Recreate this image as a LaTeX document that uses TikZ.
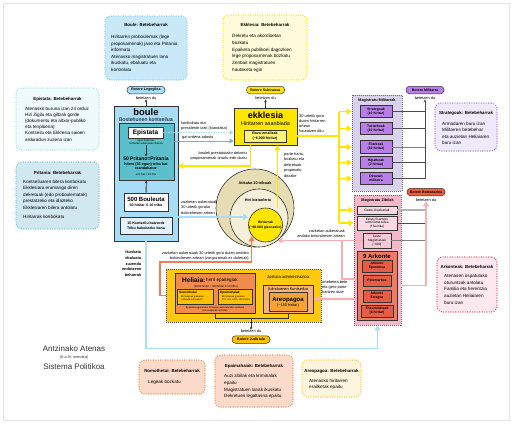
\documentclass[tikz,border=0pt]{standalone}
\usepackage{fontspec}
\setmainfont{Liberation Sans}
\usetikzlibrary{arrows.meta, positioning}

\newcommand{\fsz}[2]{\fontsize{#1}{#2}\selectfont}

\definecolor{bouleblue}{HTML}{A9DDF5}
\definecolor{tealbox}{HTML}{5CBFCB}
\definecolor{paleblue}{HTML}{E4F3FB}
\definecolor{bouledutyfill}{HTML}{C9E8F8}
\definecolor{bouledutydraw}{HTML}{8DD0F0}
\definecolor{epdutyfill}{HTML}{EEFAFC}
\definecolor{epdutydraw}{HTML}{A8E0EC}
\definecolor{pritdutyfill}{HTML}{D2E8F0}
\definecolor{pritdutydraw}{HTML}{6CC3D4}
\definecolor{ekkyellow}{HTML}{FFE600}
\definecolor{ekkdutyfill}{HTML}{FFFBDA}
\definecolor{bozofill}{HTML}{FFF27A}
\definecolor{tribufill}{HTML}{E6DDB5}
\definecolor{hirifill}{HTML}{F3EFDA}
\definecolor{milfill}{HTML}{D8D2EA}
\definecolor{milbox}{HTML}{B97FE8}
\definecolor{strdutyfill}{HTML}{EFEAFB}
\definecolor{strdutydraw}{HTML}{A070E8}
\definecolor{civilfill}{HTML}{F6B7CB}
\definecolor{gastufill}{HTML}{F9D9E3}
\definecolor{bestefill}{HTML}{F4CAD8}
\definecolor{arkfill}{HTML}{F07A62}
\definecolor{arkinner}{HTML}{E85C45}
\definecolor{betepill}{HTML}{EF5B3F}
\definecolor{arkdutyfill}{HTML}{FDE8EF}
\definecolor{arkdutydraw}{HTML}{EF4E63}
\definecolor{justfill}{HTML}{FFC90E}
\definecolor{helfill}{HTML}{F28C4E}
\definecolor{subfill}{HTML}{FFC000}
\definecolor{adinfill}{HTML}{F8B27A}
\definecolor{areofill}{HTML}{F6A336}
\definecolor{nomdutyfill}{HTML}{FBDACA}
\definecolor{nomdutydraw}{HTML}{F08C50}
\definecolor{areodutyfill}{HTML}{FFF4DD}
\definecolor{areodutydraw}{HTML}{FFCC22}
\definecolor{pinkline}{HTML}{F7AFB3}
\definecolor{orangeline}{HTML}{F47B55}
\definecolor{dotcyan}{HTML}{A5E3F0}

\begin{document}
\begin{tikzpicture}[
    x=1pt, y=-1pt,
    frame/.style={draw=black!80, line width=0.6pt, align=center, inner sep=0pt},
    group/.style={draw=black!60, line width=0.7pt, dash pattern=on 1pt off 1pt},
    duty/.style={rounded corners=6pt, line width=1.4pt, dash pattern=on 0pt off 2.4pt, line cap=round},
    dutytitle/.style={font=\fsz{4.4}{5}\bfseries, inner sep=0pt},
    dutytext/.style={font=\fsz{4.6}{6.6}, align=left, anchor=north west, inner sep=0pt},
    pill/.style={draw=black!80, line width=0.5pt, rounded corners=3.5pt, minimum width=38pt, minimum height=7.5pt, inner sep=0pt, font=\fsz{3.6}{4}\bfseries},
    note/.style={font=\fsz{3.9}{5}, inner sep=0pt},
    circ/.style={circle, draw=black!80, line width=0.6pt, inner sep=0pt},
    up/.style={-{Stealth[length=3pt,width=2.6pt]}, line width=0.6pt, black!80},
    tie/.style={line width=0.7pt, black!70},
    ylink/.style={draw=ekkyellow, line width=1.3pt, -{Triangle[length=5pt,width=6pt]}},
    yline/.style={draw=ekkyellow, line width=1.3pt},
    bluelink/.style={draw=bouleblue, line width=1.6pt, -{Triangle[length=5pt,width=6pt]}},
    plink/.style={draw=pinkline, line width=1.3pt, -{Triangle[length=5pt,width=5.5pt]}},
    pline/.style={draw=pinkline, line width=1.3pt},
    olink/.style={draw=orangeline, line width=1.2pt, -{Triangle[length=5pt,width=5.5pt]}},
    teallink/.style={draw=tealbox, line width=1pt, -{Triangle[length=4pt,width=4.5pt]}},
    dotlink/.style={draw=dotcyan, line width=1pt, dash pattern=on 1.5pt off 1pt, -{Triangle[length=4pt,width=4.5pt]}}
]
\useasboundingbox (0,0) rectangle (512,424);
\fill[white] (0,0) rectangle (512,424);
\draw[black!10, line width=0.5pt] (3,3) rectangle (509,420);

% Duties
\node[duty, fill=bouledutyfill, draw=bouledutydraw, minimum width=82pt, minimum height=64pt] (bouleduty) at (146,48) {};
\node[dutytitle] (bouledutyhead) at (146,25) {Boule: Betebeharrak};
\node[dutytext] (bouledutybody) at (111,35) {Hiritarren proboulemak (lege\\proposamenak) jaso eta Pritania\\informatu\\Atenasko magistratuen lana\\ikuskatu, ebaluatu eta\\kontrolatu};

\node[duty, fill=ekkdutyfill, draw=ekkyellow, minimum width=84pt, minimum height=65pt] (ekkduty) at (265,47.5) {};
\node[dutytitle] (ekkdutyhead) at (265,25) {Ekklesia: Betebeharrak};
\node[dutytext, font=\fsz{4.6}{6.8}] (ekkdutybody) at (232,34) {Dekretu eta akordioetan\\bozkatu\\Epaiketa publikoei dagozkien\\lege proposamenak bozkatu\\Zenbait magistratuen\\hautaketa egin};

\node[duty, fill=epdutyfill, draw=epdutydraw, minimum width=83pt, minimum height=62pt] (epduty) at (57.5,119) {};
\node[dutytitle] (epdutyhead) at (57.5,99) {Epistata: Betebeharrak};
\node[dutytext, font=\fsz{4.6}{6.2}] (epdutybody) at (25,106.5) {Atenasko buruna izan 24 orduz\\Hiri Zigilu eta giltzak gorde\\(dokumentu eta altxor-publiko\\eta tenploena)\\Kontseilu eta Ekklesia saioen\\arduradun zuzena izan};

\node[duty, fill=pritdutyfill, draw=pritdutydraw, minimum width=83pt, minimum height=67pt] (pritduty) at (57.5,195.5) {};
\node[dutytitle] (pritdutyhead) at (57.5,172.5) {Pritania: Betebeharrak};
\node[dutytext, font=\fsz{4.6}{6.4}] (pritdutybody) at (23,180) {Kontseiluaren bilera konbokatu\\Ekklesiara eramango diren\\dekretuak (edo proboulematak)\\prestatzeko eta idazteko\\Ekklesiaren bilera antolatu\\[3pt]Hiritarrak konbokatu};

\node[duty, fill=strdutyfill, draw=strdutydraw, minimum width=62pt, minimum height=48pt] (strduty) at (466,127) {};
\node[dutytitle] (strdutyhead) at (466,113) {Strategoak: Betebeharrak};
\node[dutytext, font=\fsz{4.6}{6.5}] (strdutybody) at (442,121.5) {Armadaren buru izan\\Militarren betebehar\\eta auzietan Heliaiaren\\buru izan};

\node[duty, fill=arkdutyfill, draw=arkdutydraw, minimum width=60pt, minimum height=55pt] (arkduty) at (467,284.5) {};
\node[dutytitle] (arkdutyhead) at (467,267) {Arkonteak: Betebeharrak};
\node[dutytext, font=\fsz{4.6}{6.7}] (arkdutybody) at (444,274) {Atenasen ospatutako\\oturuntzak antolatu\\Familia eta herentzia\\auzietan Heliaiaren\\buru izan};

\node[duty, fill=nomdutyfill, draw=nomdutydraw, minimum width=66pt, minimum height=34pt] (nomduty) at (172,377) {};
\node[dutytitle] (nomdutyhead) at (172,371) {Nomothetai: Betebeharrak};
\node[dutytext] (nomdutybody) at (148,379.5) {Legeak bozkatu};

\node[duty, fill=nomdutyfill, draw=nomdutydraw, minimum width=78pt, minimum height=52pt] (epaduty) at (254,381) {};
\node[dutytitle] (epadutyhead) at (254,366) {Epaimahaiak: Betebeharrak};
\node[dutytext, font=\fsz{4.6}{6.8}] (epadutybody) at (224,374) {Auzi zibilak eta kriminalak\\epaitu\\Magistratuen lanak ikuskatu\\Dekretuen legaltasna epaitu};

\node[duty, fill=areodutyfill, draw=areodutydraw, minimum width=59pt, minimum height=37pt] (areoduty) at (331.5,378.5) {};
\node[dutytitle] (areodutyhead) at (331.5,371) {Areopagoa: Betebeharrak};
\node[dutytext, font=\fsz{4.6}{6.4}] (areodutybody) at (309,379) {Atenasko hiritarren\\erailketak epaitu};

% Title
\node[font=\fsz{8}{9}, text=black!80, inner sep=0pt] (title) at (74,349) {Antzinako Atenas};
\node[font=\fsz{3.8}{4}, text=black!80, inner sep=0pt] (titledate) at (74,357.5) {(K.a.IV. mendea)};
\node[font=\fsz{8}{9}, text=black!80, inner sep=0pt] (titlesub) at (74,366.5) {Sistema Politikoa};

% Boule
\node[frame, fill=bouleblue, minimum width=64pt, minimum height=135pt] (boule) at (146,173.5) {};
\node[font=\fsz{9.4}{10}\bfseries, inner sep=0pt] (boulename) at (146,112.5) {boule};
\node[font=\fsz{5.3}{6}, inner sep=0pt] (boulesub) at (146,119.5) {Bostehunen kontseilua};
\node[frame, fill=tealbox, minimum width=55pt, minimum height=57pt] (pritania) at (146.5,151.5) {};
\node[frame, fill=white, minimum width=35pt, minimum height=11pt, font=\fsz{6.5}{7}\bfseries] (epistata) at (145.5,132.5) {Epistata};
\node[font=\fsz{2.7}{3.2}, align=center, inner sep=0pt] (epistatanote) at (146,142) {egun baterako\\norberak aukeratzen dutena};
\node[font=\fsz{5}{6}\bfseries, inner sep=0pt] (pritano) at (146,158.5) {50 Pritano=Pritania};
\node[font=\fsz{3.7}{4.6}\bfseries, align=center, inner sep=0pt] (pritanonote) at (146,166) {hilero (36 egun) tribu bat\\txandakatuz};
\node[font=\fsz{2.7}{3}, inner sep=0pt] (pritanoyear) at (146,175) {urte bat = 10 hila};
\draw[up] (epistatanote) -- (pritano);
\node[frame, fill=white, minimum width=44pt, minimum height=18pt, font=\fsz{3.6}{4.6}\bfseries] (bouleuta) at (146,202) {{\fsz{6}{7}\bfseries 500 Bouleuta}\\50 hiritar X 10 tribu};
\draw[up, line width=0.8pt] (bouleuta) -- (pritania);
\node[frame, fill=paleblue, minimum width=52pt, minimum height=17pt, font=\fsz{3.6}{4.6}\bfseries] (batzorde) at (146,225.5) {10 Kontseilu batzorde\\Tribu bakoitzeko bana};

\node[pill, fill=bouleblue] (legegilea) at (146,90) {Botere Legegilea};
\node[note, below=2pt of legegilea] (legegileadu) {betetzen du};
\draw[up] (boule) -- (legegileadu);

% Ekklesia
\node[frame, fill=ekkyellow, minimum width=63pt, minimum height=37pt] (ekklesia) at (265.5,126.5) {};
\node[font=\fsz{9}{10}\bfseries, inner sep=0pt] (ekklesianame) at (265.5,115.5) {ekklesia};
\node[font=\fsz{5.4}{6}, inner sep=0pt] (ekklesiasub) at (265.5,124) {Hiritarren asanblada};
\node[frame, fill=bozofill, minimum width=42pt, minimum height=12pt, font=\fsz{3.6}{4.4}\bfseries] (bozo) at (265,136) {Bozo-emaileak\\(\textasciitilde6.000 hiritar)};

\node[pill, fill=ekkyellow] (subiranoa) at (265.5,90) {Botere Subiranoa};
\node[note, below=2pt of subiranoa] (subiranoadu) {betetzen du};
\draw[up] (ekklesia) -- (subiranoadu);

% Citizens
\node[circ, fill=tribufill, minimum size=78pt] (tribuak) at (255,208) {};
\node[circ, fill=hirifill, minimum size=58pt] (biztanleria) at (259,218) {};
\node[circ, fill=ekkyellow, minimum size=34pt] (hiritarrak) at (265.5,225) {};
\node[note, font=\fsz{3.8}{4}\bfseries] (tribuaklbl) at (255,183) {Atikako 10 tribuak};
\node[note, font=\fsz{3.8}{4}\bfseries] (biztanlerialbl) at (258,200) {Hiri biztanleria};
\node[note, font=\fsz{3.4}{5}\bfseries, align=center] (hiritarraklbl) at (265.5,225) {Hiritarrak\\(\textasciitilde60.000 gizonezko)};

% Boule <-> Ekklesia
\draw[dotlink] (epistata) -- (epistata -| ekklesia.west);
\node[note, anchor=south west, align=left] (konbokatu) at (181,130.5) {konbokatu eta\\presidente izan (txandaka)};
\draw[teallink] ([yshift=10.5pt]pritania.east) -- ([yshift=-14.5pt]ekklesia.west);
\node[note, anchor=south west] (gaiordena) at (182,139.5) {gai ordena adostu};
\draw[ylink] ([xshift=-15pt]ekklesia.south) |- ([yshift=7.5pt]boule.east);
\node[note, anchor=north east, align=right] (onartu) at (247,151.5) {boulek prestatutako dekretu\\proposamenak onartu edo ukatu};
\draw[ylink] ([xshift=12pt]hiritarrak.north) -- ([xshift=12pt]ekklesia.south);
\node[note, anchor=north west, align=left, font=\fsz{3.9}{5.5}] (partehartu) at (284,152) {parte hartu,\\bozkatu eta\\dekretuak\\proposatu\\ditzake};
\draw[bluelink] ([yshift=-43.5pt]boule.east) -- ([yshift=8pt]hiritarrak.west);
\node[note, anchor=south west, align=left, font=\fsz{3.9}{5.8}] (zozketaboule) at (181,215) {zozketan aukeratuak\\30 urtetik gorako\\bolondresen artean};

% Military magistrates
\node[group, fill=milfill, minimum width=50pt, minimum height=96pt] (militarrak) at (377,143) {};
\node[note, font=\fsz{3.8}{4}\bfseries] (militarraklbl) at (377,100.5) {Magistratu Militarrak};
\node[frame, fill=milbox, minimum width=32pt, minimum height=12pt, font=\fsz{3.4}{4}\bfseries] (strategoak) at (376,111.5) {Strategoak\\(10 hiritar)};
\node[frame, fill=milbox, minimum width=32pt, minimum height=12.5pt, font=\fsz{3.4}{4}\bfseries] (taxiarkoak) at (376,128.5) {Taxiarkoak\\(10 hiritar)};
\node[frame, fill=milbox, minimum width=32pt, minimum height=12.5pt, font=\fsz{3.4}{4}\bfseries] (filarkoak) at (376,147) {Filarkoak\\(10 hiritar)};
\node[frame, fill=milbox, minimum width=32pt, minimum height=12.5pt, font=\fsz{3.4}{4}\bfseries] (hiparkoak) at (376,162.5) {Hiparkoak\\(2 hiritar)};
\node[frame, fill=milbox, minimum width=32pt, minimum height=12.5pt, font=\fsz{3.4}{4}\bfseries] (diruzain) at (376,178.5) {Diruzain\\militarra};

\node[pill, fill=milbox] (militarra) at (425,90) {Botere Militarra};
\node[note, below=2pt of militarra] (militarradu) {betetzen du};
\draw[tie] (strategoak) -- (strategoak -| militarradu);
\draw[tie] (taxiarkoak) -- (taxiarkoak -| militarradu);
\draw[tie, black!50] (filarkoak) -- (filarkoak -| militarradu);
\draw[tie] (hiparkoak) -- (hiparkoak -| militarradu);
\draw[up, black!70, line width=0.7pt] (diruzain) -- (diruzain -| militarradu) -- (militarradu);

% Civil magistrates
\node[group, fill=civilfill, minimum width=47pt, minimum height=130pt] (civil) at (377.5,260) {};
\node[note, font=\fsz{3.8}{4}\bfseries] (civillbl) at (377.5,201) {Magistratu Zibilak};
\node[frame, fill=gastufill, minimum width=40pt, minimum height=8pt, font=\fsz{3.4}{4}] (gastu) at (377,210) {Gastu Ikuskariak};
\node[frame, fill=gastufill, minimum width=40pt, minimum height=14pt, font=\fsz{3.1}{3.8}] (estatu) at (377,223) {Estatu finantzen\\administratzailea\\(Theorika)};
\node[frame, fill=bestefill, minimum width=28pt, minimum height=15pt, font=\fsz{3.1}{3.8}] (beste) at (377,240.5) {beste\\Magistratuak\\(\textasciitilde600)};
\node[frame, fill=arkfill, minimum width=40pt, minimum height=69pt] (arkonte) at (377,285.5) {};
\node[font=\fsz{6}{6}\bfseries, inner sep=0pt] (arkontelbl) at (377,256.5) {9 Arkonte};
\node[frame, fill=arkinner, minimum width=30pt, minimum height=12pt, font=\fsz{3.4}{4}\bfseries] (eponimoa) at (377,266) {Arkonte\\Eponimoa};
\node[frame, fill=arkinner, minimum width=28pt, minimum height=11pt, font=\fsz{3.4}{4}\bfseries] (polemarkoa) at (377,280.5) {Polemarkoa};
\node[frame, fill=arkinner, minimum width=28pt, minimum height=12pt, font=\fsz{3.4}{4}\bfseries] (erregea) at (377,296) {Arkonte\\Erregea};
\node[frame, fill=arkinner, minimum width=32pt, minimum height=12pt, font=\fsz{3.4}{4}\bfseries] (thesmoteteak) at (377,311) {Thesmoteteak\\(6 hiritar)};

\node[pill, fill=betepill] (betearazlea) at (426,192) {Botere Betearazlea};
\node[note, below=2pt of betearazlea] (betearazleadu) {betetzen du};
\draw[tie, black!30, line width=1.2pt] (gastu) -- (gastu -| betearazleadu);
\draw[tie] (estatu) -- (estatu -| betearazleadu);
\draw[tie, black!50] (beste) -- (beste -| betearazleadu);
\draw[plink] (arkonte -| civil.east) -- (arkonte -| betearazleadu) -- (betearazleadu);

% Ekklesia elects magistrates
\coordinate (ekkfork) at (339,136);
\draw[yline] ([yshift=-9.5pt]ekklesia.east) -- (ekkfork);
\draw[yline] (strategoak -| ekkfork) -- (estatu -| ekkfork);
\draw[ylink] (strategoak -| ekkfork) -- (strategoak -| militarrak.west);
\draw[ylink] (taxiarkoak -| ekkfork) -- (taxiarkoak -| militarrak.west);
\draw[ylink] (filarkoak -| ekkfork) -- (filarkoak -| militarrak.west);
\draw[ylink] (hiparkoak -| ekkfork) -- (hiparkoak -| militarrak.west);
\draw[ylink] (diruzain -| ekkfork) -- (diruzain -| militarrak.west);
\draw[ylink] (gastu -| ekkfork) -- (gastu -| civil.west);
\draw[ylink] (estatu -| ekkfork) -- (estatu -| civil.west);
\node[note, anchor=north west, align=left] (hautatu) at (299,114) {30 urtetik gora\\duten hiritarren\\artean\\hautatzen ditu};

% Lottery among citizens
\coordinate (pinkjoin) at (342,240.5);
\draw[plink] (beste) -- (hiritarrak.south east |- beste);
\draw[pline] ([yshift=6.5pt]arkonte.west) -| (pinkjoin);
\node[note, anchor=south east, align=right] (zozketamag) at (345,237.5) {zozketan aukeratuak\\andoko bolondresen artean};

% Justice
\node[frame, fill=justfill, draw=black!70, dash pattern=on 1pt off 1pt, minimum width=155pt, minimum height=53pt] (justice) at (243.5,295.5) {};
\node[frame, fill=helfill, minimum width=80pt, minimum height=40pt] (heliaia) at (215,293) {};
\node[font=\fsz{6.5}{7}\bfseries, inner sep=0pt, anchor=west] (heliaianame) at (182,280.5) {Heliaia:};
\node[font=\fsz{4.6}{5}, inner sep=0pt, anchor=west] (heliaiasub) at (206,280.5) {herri epaitegiak};
\node[font=\fsz{2.8}{3}, inner sep=0pt] (heliaianum) at (216,286.5) {(6000 hiritar = 600hiritar X 10 tribu)};
\node[frame, fill=subfill, minimum width=36pt, minimum height=15pt] (nomothetai) at (195,296.5) {};
\node[font=\fsz{3.2}{3.5}\bfseries, anchor=north west, inner sep=0pt] (nomothetainame) at (179,290.5) {Nomothetai};
\node[font=\fsz{2.3}{2.8}, anchor=north west, inner sep=0pt, align=left] (nomothetainote) at (181,295.5) {\textbf{50} hiritarrek gutxienez\\Heliaiatik aukeratuak};
\node[frame, fill=subfill, minimum width=34pt, minimum height=15pt] (epaimahaiak) at (235,296.5) {};
\node[font=\fsz{3.2}{3.5}\bfseries, anchor=north west, inner sep=0pt] (epaimahaiakname) at (220,290.5) {Epaimahaiak};
\node[font=\fsz{2.3}{2.8}, anchor=north west, inner sep=0pt, align=left] (epaimahaiaknote) at (222,295.5) {\textbf{20} hiritarrek gutxienez\\201, 501, 1001, 1501 hiritar};
\node[font=\fsz{2.5}{3.6}, align=center, inner sep=0pt] (epaiketa) at (215,309.5) {Epaiketa egunerako zozketan aukeratutako epaileak\\(ez ezagunak aurretik)};

\node[font=\fsz{4.2}{5}, inner sep=0pt] (justicelbl) at (288,277) {Justizia administrazioa};
\node[frame, fill=adinfill, minimum width=50pt, minimum height=28pt] (adinduenen) at (288,299) {};
\node[font=\fsz{3.9}{4}, inner sep=0pt] (adinduenenlbl) at (288,289) {Adinduenen Kontseilua};
\node[frame, fill=areofill, minimum width=38pt, minimum height=19pt, font=\fsz{3.8}{5}] (areopagoa) at (288,302) {{\fsz{6}{7}\bfseries Areopagoa}\\(\textasciitilde150 hiritar)};

\draw[tie, black!80] (heliaia.south) -- ++(0,5) -| (adinduenen.south);
\coordinate (judmid) at (251,318);
\node[note] (judizialadu) at (251,331.5) {betetzen du};
\node[pill, fill=subfill] (judiziala) at (251,339.5) {Botere Judiziala};
\draw[up] (judmid) -- (judizialadu);

\draw[plink] (arkonte.west |- adinduenen) -- (adinduenen);
\node[note, anchor=north west, align=left, font=\fsz{3.9}{4.8}] (urtebete) at (322,280.5) {urtebetea bete\\eta gero parte\\hartzen dute};

\draw[olink] (justice.west) -| (160,262) -| ([xshift=-14pt,yshift=6pt]hiritarrak.south);
\node[note, anchor=south east, align=right] (zozketaheliaia) at (249,260.5) {zozketan aukeratuak 30 urtetik gora duten andoko\\bolondresen artean (zorgazomak ez dutenak)};

% Boule oversees magistrates
\draw[bluelink] (boule.south) |- ([yshift=-23pt]civil.south) -- (civil.south);
\node[note, font=\fsz{3.9}{5.8}\bfseries, anchor=north east, align=right] (ikuskatu) at (141.5,250.5) {ikuskatu\\ebaluatu\\zuzendu\\endotzeen\\beharrak};

\end{tikzpicture}
\end{document}
